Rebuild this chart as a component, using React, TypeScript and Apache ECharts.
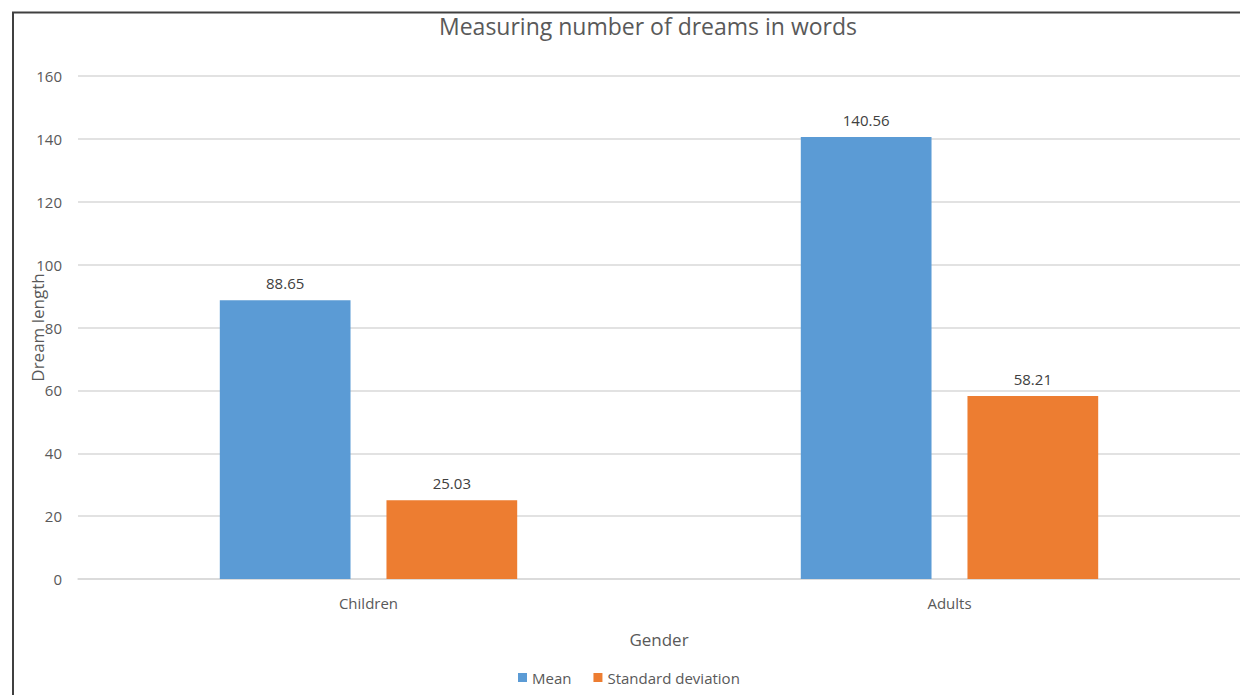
import React, { useEffect, useRef } from "react";
import * as echarts from "echarts";

const categories = ["Children", "Adults"];
const meanValues = [88.65, 140.56];
const sdValues = [25.03, 58.21];
const seriesNames = ["Mean", "Standard deviation"];
const titleText = "Measuring number of dreams in words";
const yAxisName = "Dream length";
const xAxisName = "Gender";

const FONT = "'Open Sans', 'Noto Sans', sans-serif";

export default function App() {
  const ref = useRef<HTMLDivElement>(null);
  useEffect(() => {
    document.body.style.margin = "0";
    const chart = echarts.init(ref.current!, undefined, { renderer: "svg" });
    chart.setOption({
      animation: false,
      backgroundColor: "#ffffff",
      textStyle: { fontFamily: FONT },
      title: {
        text: titleText,
        left: 643,
        textAlign: "center",
        top: 9,
        textStyle: { fontFamily: FONT, fontSize: 23, fontWeight: "normal", color: "#595959" },
      },
      legend: {
        data: seriesNames,
        bottom: 5,
        left: 513,
        itemWidth: 9,
        itemHeight: 9,
        itemGap: 22,
        icon: "rect",
        textStyle: { fontFamily: FONT, fontSize: 15, color: "#595959" },
      },
      grid: { left: 78, right: 0, top: 76, bottom: 116 },
      xAxis: {
        type: "category",
        data: categories,
        name: xAxisName,
        nameLocation: "middle",
        nameGap: 52,
        nameTextStyle: { fontFamily: FONT, fontSize: 17, color: "#595959" },
        axisLine: { lineStyle: { color: "#d9d9d9", width: 1.5 } },
        axisTick: { show: false },
        axisLabel: { fontFamily: FONT, fontSize: 15, color: "#595959", margin: 16 },
      },
      yAxis: {
        type: "value",
        min: 0,
        max: 160,
        interval: 20,
        name: yAxisName,
        nameLocation: "middle",
        nameGap: 32,
        nameMoveOverlap: false,
        nameTextStyle: { fontFamily: FONT, fontSize: 17, color: "#595959" },
        axisLine: { show: false },
        axisTick: { show: false },
        axisLabel: { fontFamily: FONT, fontSize: 15, color: "#595959", margin: 16 },
        splitLine: { lineStyle: { color: "#d9d9d9", width: 1.5 } },
      },
      graphic: [
        {
          type: "polyline",
          shape: { points: [[13, 700], [13, 12.5], [1245, 12.5]] },
          style: { stroke: "#404040", lineWidth: 2, fill: "none" },
          z: 100,
        },
      ],
      series: [
        {
          name: seriesNames[0],
          type: "bar",
          data: meanValues,
          barWidth: "22.5%",
          barGap: "27.5%",
          itemStyle: { color: "#5B9BD5" },
          label: {
            show: true,
            position: "top",
            distance: 10,
            fontFamily: FONT,
            fontSize: 15,
            color: "#404040",
          },
        },
        {
          name: seriesNames[1],
          type: "bar",
          data: sdValues,
          barWidth: "22.5%",
          itemStyle: { color: "#ED7D31" },
          label: {
            show: true,
            position: "top",
            distance: 10,
            fontFamily: FONT,
            fontSize: 15,
            color: "#404040",
          },
        },
      ],
    });
    return () => chart.dispose();
  }, []);
  return (
    <div
      ref={ref}
      style={{ position: "fixed", left: 0, top: 0, width: 1240, height: 695 }}
    />
  );
}
